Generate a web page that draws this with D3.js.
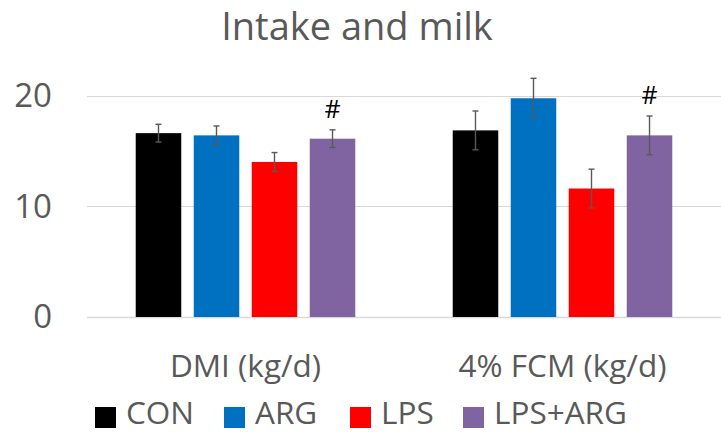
<!DOCTYPE html>
<html>
<head>
<meta charset="utf-8">
<script src="https://cdn.jsdelivr.net/npm/d3@7"></script>
<style>
  html, body { margin: 0; padding: 0; background: #fff; }
  svg { display: block; font-family: "Open Sans", "Noto Sans", sans-serif; }
</style>
</head>
<body>
<svg id="chart" width="721" height="432"></svg>
<script>
// Measured variables (groups on the x axis)
const categories = ["DMI (kg/d)", "4% FCM (kg/d)"];
// Treatments
const series = ["CON", "ARG", "LPS", "LPS+ARG"];
const colors = ["#000000", "#0070C0", "#FF0000", "#8064A2"];
// Means per treatment, one entry per category
const means = {
  "CON":     [16.6, 16.85],
  "ARG":     [16.4, 19.75],
  "LPS":     [14.0, 11.6],
  "LPS+ARG": [16.1, 16.4]
};
// Standard errors per treatment
const errors = {
  "CON":     [0.8, 1.75],
  "ARG":     [0.85, 1.8],
  "LPS":     [0.85, 1.75],
  "LPS+ARG": [0.8, 1.75]
};
// Significance marks shown above bars
const marks = [
  { series: "LPS+ARG", category: "DMI (kg/d)", text: "#" },
  { series: "LPS+ARG", category: "4% FCM (kg/d)", text: "#" }
];
const yTicks = [0, 10, 20];
const title = "Intake and milk";

const svg = d3.select("#chart");
const textColor = "#595959";

const x0 = d3.scaleBand().domain(categories).range([87, 721]).padding(0);
const x1 = d3.scaleBand().domain(series).range([0, x0.bandwidth()])
  .paddingInner(0.215).paddingOuter(0.84);
const y = d3.scaleLinear().domain([0, 20]).range([317, 95.5]);

// Title
svg.append("text")
  .attr("x", 357).attr("y", 40)
  .attr("text-anchor", "middle")
  .attr("font-size", 38)
  .attr("fill", textColor)
  .text(title);

// Gridlines
svg.append("g").selectAll("line").data(yTicks).join("line")
  .attr("x1", 87).attr("x2", 721)
  .attr("y1", d => Math.round(y(d)) + 0.5).attr("y2", d => Math.round(y(d)) + 0.5)
  .attr("stroke", "#d9d9d9").attr("stroke-width", d => d === 0 ? 1.5 : 1);

// Y axis labels
const yAxis = d3.axisLeft(y).tickValues(yTicks).tickSize(0).tickPadding(35);
const gy = svg.append("g").attr("transform", "translate(87,0)").call(yAxis);
gy.select(".domain").remove();
gy.selectAll("text")
  .attr("font-size", 33).attr("fill", textColor)
  .attr("font-family", "'Open Sans', 'Noto Sans', sans-serif")
  .attr("dy", "0.33em");

// X axis labels
const xAxis = d3.axisBottom(x0).tickSize(0).tickPadding(0);
const gx = svg.append("g").attr("transform", "translate(0,377)").call(xAxis);
gx.select(".domain").remove();
gx.selectAll("text")
  .attr("font-size", 31.5).attr("fill", textColor)
  .attr("font-family", "'Open Sans', 'Noto Sans', sans-serif")
  .attr("dy", 0).attr("y", 0);

// Bars
const rows = [];
categories.forEach((c, ci) => series.forEach((s, si) => {
  rows.push({ c, s, si, v: means[s][ci], e: errors[s][ci] });
}));

svg.append("g").selectAll("rect").data(rows).join("rect")
  .attr("x", d => x0(d.c) + x1(d.s))
  .attr("y", d => y(d.v))
  .attr("width", x1.bandwidth())
  .attr("height", d => y(0) - y(d.v))
  .attr("fill", d => colors[d.si]);

// Error bars
const eb = svg.append("g").attr("stroke", "#595959").attr("stroke-width", 1.4);
rows.forEach(d => {
  const cx = x0(d.c) + x1(d.s) + x1.bandwidth() / 2;
  eb.append("line").attr("x1", cx).attr("x2", cx)
    .attr("y1", y(d.v + d.e)).attr("y2", y(d.v - d.e));
  [d.v + d.e, d.v - d.e].forEach(v => {
    eb.append("line").attr("x1", cx - 3).attr("x2", cx + 3)
      .attr("y1", y(v)).attr("y2", y(v));
  });
});

// Significance marks
marks.forEach(m => {
  const ci = categories.indexOf(m.category);
  const top = means[m.series][ci] + errors[m.series][ci];
  svg.append("text")
    .attr("x", x0(m.category) + x1(m.series) + x1.bandwidth() / 2)
    .attr("y", y(top) - 12)
    .attr("text-anchor", "middle")
    .attr("font-size", 25)
    .attr("fill", "#000")
    .text(m.text);
});

// Legend
const legendX = [95, 224, 350, 463];
const legend = svg.append("g");
series.forEach((s, i) => {
  legend.append("rect")
    .attr("x", legendX[i]).attr("y", 407)
    .attr("width", 21).attr("height", 21)
    .attr("fill", colors[i]);
  legend.append("text")
    .attr("x", legendX[i] + 31).attr("y", 424)
    .attr("font-size", 31.5).attr("fill", textColor)
    .text(s);
});
</script>
</body>
</html>
